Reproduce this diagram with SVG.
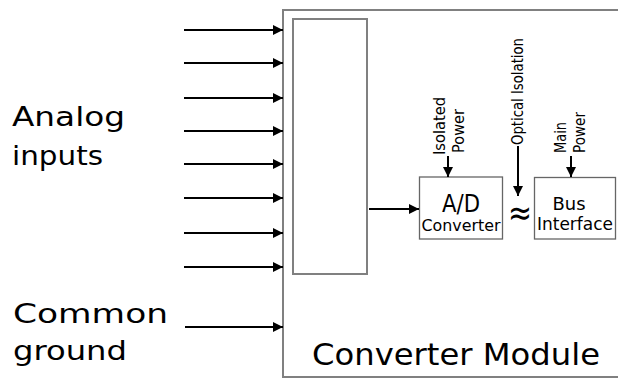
<svg xmlns="http://www.w3.org/2000/svg" width="618" height="381" viewBox="0 0 618 381">
<defs>
<marker id="ah" viewBox="0 0 10 10" refX="10" refY="5" markerWidth="10" markerHeight="10" markerUnits="userSpaceOnUse" orient="auto">
<path d="M0,0 L10,5 L0,10 Z" fill="#000"/>
</marker>
</defs>
<style>
.box{fill:#fff;stroke:#808080;stroke-width:2}
.blk{fill:#fff;stroke:#666;stroke-width:1.3}
.ar{stroke:#000;stroke-width:2;fill:none;marker-end:url(#ah)}
text{font-family:"DejaVu Sans","Liberation Sans",sans-serif;fill:#000}
.big{font-size:27px}
.sm{font-size:15px}
</style>
<g id="module">
<rect class="box" x="283" y="10" width="345" height="367"/>
<text x="312" y="365" font-size="30" textLength="288" lengthAdjust="spacingAndGlyphs">Converter Module</text>
</g>
<g id="mux">
<rect class="box" x="293" y="19" width="74" height="255" stroke-width="1.5"/>
</g>
<g id="adc">
<rect class="blk" x="419.5" y="177" width="83" height="62"/>
<text x="461" y="212" font-size="24" text-anchor="middle" textLength="38" lengthAdjust="spacingAndGlyphs">A/D</text>
<text x="461" y="231" font-size="16" text-anchor="middle" textLength="79" lengthAdjust="spacingAndGlyphs">Converter</text>
</g>
<g id="bus">
<rect class="blk" x="534.5" y="177.5" width="81" height="61.5"/>
<text x="569" y="210" font-size="17" text-anchor="middle" textLength="33" lengthAdjust="spacingAndGlyphs">Bus</text>
<text x="575" y="230" font-size="17" text-anchor="middle" textLength="76" lengthAdjust="spacingAndGlyphs">Interface</text>
</g>
<g id="labels">
<text class="big" x="12" y="126" textLength="113" lengthAdjust="spacingAndGlyphs">Analog</text>
<text class="big" x="12" y="165" textLength="91" lengthAdjust="spacingAndGlyphs">inputs</text>
<text class="big" x="13" y="323" textLength="155" lengthAdjust="spacingAndGlyphs">Common</text>
<text class="big" x="13" y="360" textLength="114" lengthAdjust="spacingAndGlyphs">ground</text>
<text class="sm" transform="translate(445,155) rotate(-90)" textLength="58" lengthAdjust="spacingAndGlyphs">Isolated</text>
<text class="sm" transform="translate(464,153) rotate(-90)" textLength="44" lengthAdjust="spacingAndGlyphs">Power</text>
<text class="sm" transform="translate(523,145) rotate(-90)" textLength="107" lengthAdjust="spacingAndGlyphs">Optical Isolation</text>
<text class="sm" transform="translate(566,153) rotate(-90)" textLength="31" lengthAdjust="spacingAndGlyphs">Main</text>
<text class="sm" transform="translate(585,153) rotate(-90)" textLength="41" lengthAdjust="spacingAndGlyphs">Power</text>
<text x="520" y="225" font-size="36" text-anchor="middle" textLength="24" lengthAdjust="spacingAndGlyphs">≈</text>
</g>
<g id="connectors">
<line class="ar" x1="184" y1="30" x2="283" y2="30"/>
<line class="ar" x1="184" y1="63" x2="283" y2="63"/>
<line class="ar" x1="184" y1="98" x2="283" y2="98"/>
<line class="ar" x1="184" y1="131" x2="283" y2="131"/>
<line class="ar" x1="184" y1="164" x2="283" y2="164"/>
<line class="ar" x1="184" y1="198" x2="283" y2="198"/>
<line class="ar" x1="184" y1="233" x2="283" y2="233"/>
<line class="ar" x1="184" y1="267" x2="283" y2="267"/>
<line class="ar" x1="185" y1="327" x2="283" y2="327" stroke-width="1.5"/>
<line class="ar" x1="369" y1="209" x2="419" y2="209" stroke-width="1.5"/>
<line class="ar" x1="448" y1="156" x2="448" y2="177"/>
<line class="ar" x1="518" y1="146" x2="518" y2="196"/>
<line class="ar" x1="571" y1="156" x2="571" y2="177"/>
</g>
</svg>
